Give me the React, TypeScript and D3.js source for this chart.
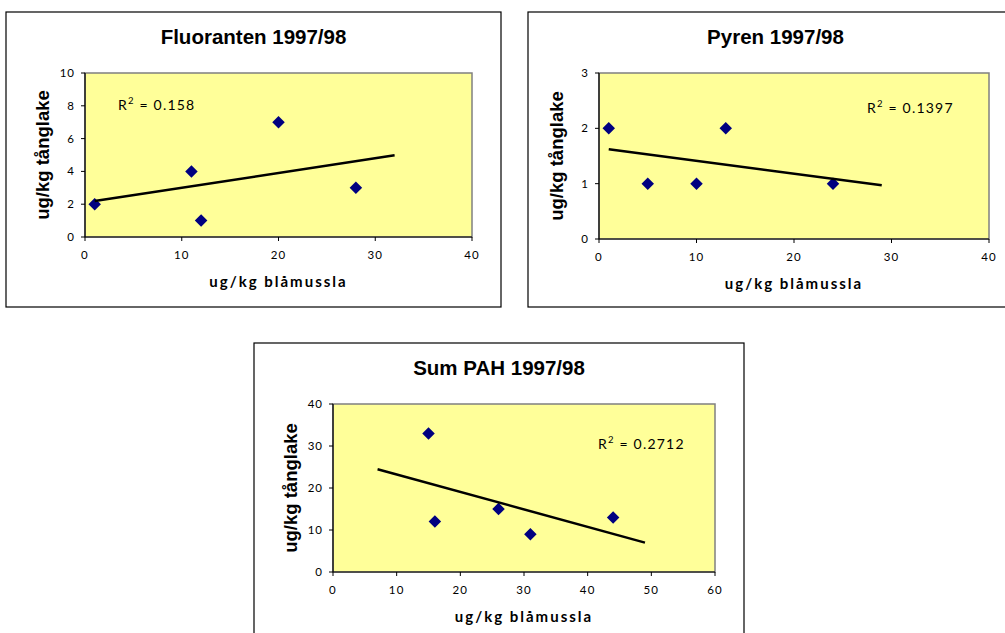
import React from "react";
import * as d3 from "d3";

// ---- data ----
const fluorantenX = [1, 11, 12, 20, 28];
const fluorantenY = [2, 4, 1, 7, 3];
const pyrenX = [1, 5, 10, 13, 24];
const pyrenY = [2, 1, 1, 2, 1];
const sumPahX = [15, 16, 26, 31, 44];
const sumPahY = [33, 12, 15, 9, 13];

const titles = ["Fluoranten 1997/98", "Pyren 1997/98", "Sum PAH 1997/98"];
const r2Labels = ["0.158", "0.1397", "0.2712"];
const xDomains = [[0, 40], [0, 40], [0, 60]];
const yDomains = [[0, 10], [0, 3], [0, 40]];
const xTicks = [[0, 10, 20, 30, 40], [0, 10, 20, 30, 40], [0, 10, 20, 30, 40, 50, 60]];
const yTicks = [[0, 2, 4, 6, 8, 10], [0, 1, 2, 3], [0, 10, 20, 30, 40]];
const trendRanges = [[1, 32], [1, 29], [7, 49]];
const xTitle = "ug/kg blåmussla";
const yTitle = "ug/kg tånglake";

// ---- layout ----
const layouts = [
  { frame: [6, 12, 495, 295], plot: [85, 73, 472, 237], r2: [118, 110] },
  { frame: [528, 12, 495, 295], plot: [599, 73, 989, 239], r2: [867, 113] },
  { frame: [254, 343, 490, 300], plot: [333, 404, 715, 572], r2: [598, 449] },
];

function regress(xs: number[], ys: number[]) {
  const mx = d3.mean(xs)!;
  const my = d3.mean(ys)!;
  let sxy = 0, sxx = 0;
  xs.forEach((x, i) => { sxy += (x - mx) * (ys[i] - my); sxx += (x - mx) * (x - mx); });
  const slope = sxy / sxx;
  return { slope, intercept: my - slope * mx };
}

const tickFont = "Lato, 'Open Sans', sans-serif";
const boldFont = "'Liberation Sans', Arial, sans-serif";

function Panel({ idx, xs, ys }: { idx: number; xs: number[]; ys: number[] }) {
  const L = layouts[idx];
  const [fx, fy, fw, fh] = L.frame;
  const [pl, pt, pr, pb] = L.plot;
  const x = d3.scaleLinear().domain(xDomains[idx]).range([pl, pr]);
  const y = d3.scaleLinear().domain(yDomains[idx]).range([pb, pt]);
  const { slope, intercept } = regress(xs, ys);
  const tr = trendRanges[idx];
  const line = d3.line<number>().x((d) => x(d)).y((d) => y(slope * d + intercept));
  const diamond = d3.symbol().type(d3.symbolDiamond2).size(100)();
  return (
    <g>
      <rect x={fx} y={fy} width={fw} height={fh} fill="#fff" stroke="#000" strokeWidth={1.2} />
      <text x={fx + fw / 2} y={fy + 32} textAnchor="middle" fontFamily={boldFont} fontWeight="bold" fontSize={20.5} fill="#000">
        {titles[idx]}
      </text>
      <rect x={pl} y={pt} width={pr - pl} height={pb - pt} fill="#FFFF99" stroke="#808080" strokeWidth={1.5} />
      <line x1={pl} x2={pl} y1={pt} y2={pb} stroke="#000" strokeWidth={1.2} />
      <line x1={pl} x2={pr} y1={pb} y2={pb} stroke="#000" strokeWidth={1.2} />
      {yTicks[idx].map((t) => (
        <g key={"y" + t}>
          <line x1={pl - 4} x2={pl} y1={y(t)} y2={y(t)} stroke="#000" strokeWidth={1} />
          <text x={pl - 10} y={y(t) + 4} textAnchor="end" fontFamily={tickFont} fontSize={11.5} letterSpacing={1} fill="#000">{t}</text>
        </g>
      ))}
      {xTicks[idx].map((t) => (
        <g key={"x" + t}>
          <line x1={x(t)} x2={x(t)} y1={pb} y2={pb + 4} stroke="#000" strokeWidth={1} />
          <text x={x(t)} y={pb + 22} textAnchor="middle" fontFamily={tickFont} fontSize={11.5} letterSpacing={1.2} fill="#000">{t}</text>
        </g>
      ))}
      <text x={(pl + pr) / 2} y={pb + 50} textAnchor="middle" fontFamily={tickFont} fontWeight="bold" fontSize={15} letterSpacing={2} fill="#000">
        {xTitle}
      </text>
      <text transform={`translate(${pl - 36},${(pt + pb) / 2}) rotate(-90)`} textAnchor="middle" fontFamily={boldFont} fontWeight="bold" fontSize={18.5} fill="#000">
        {yTitle}
      </text>
      {xs.map((v, i) => (
        <path key={i} d={diamond!} transform={`translate(${x(v)},${y(ys[i])})`} fill="#000080" />
      ))}
      <path d={line(tr)!} stroke="#000" strokeWidth={2.5} fill="none" />
      <text x={L.r2[0]} y={L.r2[1]} fontFamily={tickFont} fontSize={14} letterSpacing={1.2} fill="#000">
        R<tspan dy={-6} fontSize={9.5}>2</tspan><tspan dy={6}> = {r2Labels[idx]}</tspan>
      </text>
    </g>
  );
}

export default function App() {
  return (
    <svg width={1005} height={633} style={{ position: "absolute", left: 0, top: 0, background: "#fff" }}>
      <rect x={0} y={0} width={1005} height={633} fill="#fff" />
      <Panel idx={0} xs={fluorantenX} ys={fluorantenY} />
      <Panel idx={1} xs={pyrenX} ys={pyrenY} />
      <Panel idx={2} xs={sumPahX} ys={sumPahY} />
    </svg>
  );
}
